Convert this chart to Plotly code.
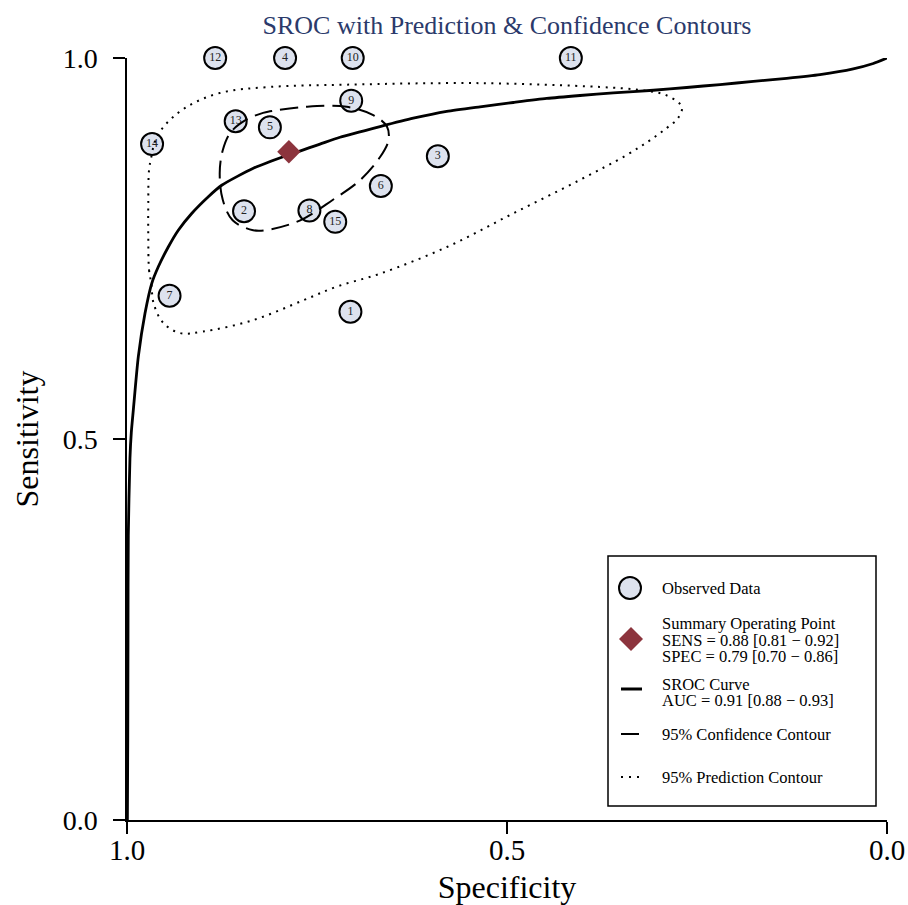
import plotly.graph_objects as go

# ---------------- data ----------------
study_ids = ["1", "2", "3", "4", "5", "6", "7", "8", "9", "10", "11", "12", "13", "14", "15"]
study_spec = [0.706, 0.846, 0.591, 0.792, 0.812, 0.666, 0.944, 0.760, 0.705, 0.703, 0.416, 0.884, 0.857, 0.967, 0.726]
study_sens = [0.667, 0.799, 0.871, 1.000, 0.909, 0.832, 0.688, 0.800, 0.944, 1.000, 1.000, 1.000, 0.917, 0.887, 0.785]

summary_spec = [0.787]
summary_sens = [0.877]

sroc_spec = [0.9995, 0.9990, 0.9987, 0.9983, 0.9961, 0.9943, 0.9917, 0.9851, 0.9763, 0.9675,
             0.9588, 0.9457, 0.9325, 0.9149, 0.8930, 0.8754, 0.8338, 0.7899, 0.7461, 0.7197,
             0.6671, 0.6233, 0.5793, 0.5355, 0.4917, 0.4478, 0.4039, 0.3601, 0.3075, 0.2636,
             0.2197, 0.1759, 0.1320, 0.0882, 0.0444, 0.0180, 0.0000]
sroc_sens = [0.000, 0.105, 0.236, 0.373, 0.475, 0.509, 0.538, 0.608, 0.665, 0.704,
             0.726, 0.752, 0.774, 0.796, 0.818, 0.833, 0.8553, 0.872, 0.887, 0.896,
             0.910, 0.921, 0.930, 0.936, 0.9416, 0.9469, 0.9508, 0.9543, 0.9577, 0.9613,
             0.9652, 0.9692, 0.9734, 0.9783, 0.9858, 0.9928, 1.000]

conf_spec = [0.812, 0.764, 0.711, 0.676, 0.658, 0.656, 0.667, 0.693, 0.729, 0.772, 0.812, 0.834,
             0.861, 0.874, 0.878, 0.874, 0.864, 0.843, 0.821, 0.812]
conf_sens = [0.930, 0.936, 0.936, 0.925, 0.910, 0.892, 0.870, 0.840, 0.814, 0.787, 0.775, 0.774,
             0.787, 0.814, 0.849, 0.879, 0.902, 0.919, 0.928, 0.930]

pred_spec = [0.972, 0.971, 0.968, 0.965, 0.952, 0.930, 0.900, 0.834, 0.768, 0.724, 0.667, 0.579,
             0.492, 0.404, 0.342, 0.312, 0.290, 0.275, 0.270, 0.290, 0.325, 0.378, 0.536, 0.711,
             0.812, 0.878, 0.921, 0.950, 0.963, 0.968, 0.971, 0.972, 0.972]
pred_sens = [0.766, 0.722, 0.704, 0.678, 0.652, 0.639, 0.641, 0.656, 0.682, 0.700, 0.717, 0.752,
             0.796, 0.840, 0.873, 0.892, 0.908, 0.921, 0.936, 0.951, 0.958, 0.962, 0.967, 0.965,
             0.962, 0.954, 0.936, 0.912, 0.891, 0.870, 0.853, 0.810, 0.766]

x_ticks = [1.0, 0.5, 0.0]
x_ticklabels = ["1.0", "0.5", "0.0"]
y_ticks = [0.0, 0.5, 1.0]
y_ticklabels = ["0.0", "0.5", "1.0"]

title_text = "SROC with Prediction & Confidence Contours"
legend_observed = "Observed Data"
legend_summary = ["Summary Operating Point", "SENS = 0.88 [0.81 \u2212 0.92]", "SPEC = 0.79 [0.70 \u2212 0.86]"]
legend_sroc = ["SROC Curve", "AUC = 0.91 [0.88 \u2212 0.93]"]
legend_conf = "95% Confidence Contour"
legend_pred = "95% Prediction Contour"

# ---------------- styling ----------------
SERIF = "Liberation Serif"
POINT_FILL = "#dde2ee"
DIAMOND = "#8C343D"
TITLE_COLOR = "#2B3A6B"

W, H = 908, 905
L, R, T, B = 127, 21, 58, 85
PW, PH = W - L - R, H - T - B


def PX(px):
    return (px - L) / PW


def PY(py):
    return (H - B - py) / PH


fig = go.Figure()

fig.add_trace(go.Scatter(
    x=study_spec, y=study_sens, mode="markers+text", text=study_ids,
    textposition="middle center", cliponaxis=False, showlegend=False,
    name=legend_observed,
    marker=dict(size=22, color=POINT_FILL, line=dict(color="black", width=2)),
    textfont=dict(family=SERIF, size=12, color="#222222"),
))

fig.add_trace(go.Scatter(
    x=sroc_spec, y=sroc_sens, mode="lines", cliponaxis=False, showlegend=False,
    name="SROC Curve",
    line=dict(color="black", width=2.8, shape="spline", smoothing=0.6),
))

fig.add_trace(go.Scatter(
    x=conf_spec, y=conf_sens, mode="lines", cliponaxis=False, showlegend=False,
    name=legend_conf,
    line=dict(color="black", width=2, dash="18px,8px", shape="spline", smoothing=1.0),
))

fig.add_trace(go.Scatter(
    x=pred_spec, y=pred_sens, mode="lines", cliponaxis=False, showlegend=False,
    name=legend_pred,
    line=dict(color="black", width=2, dash="2px,5.6px", shape="spline", smoothing=1.0),
))

fig.add_trace(go.Scatter(
    x=summary_spec, y=summary_sens, mode="markers", cliponaxis=False, showlegend=False,
    name="Summary Operating Point",
    marker=dict(symbol="diamond", size=18, color=DIAMOND, line=dict(width=0)),
))

# ---------------- custom legend ----------------
shapes = []
annotations = []

shapes.append(dict(type="rect", xref="paper", yref="paper",
                   x0=PX(608), x1=PX(876), y0=PY(806), y1=PY(556),
                   line=dict(color="black", width=1.5), fillcolor="white", layer="above"))

shapes.append(dict(type="circle", xref="paper", yref="paper",
                   xsizemode="pixel", ysizemode="pixel",
                   xanchor=PX(630), yanchor=PY(588),
                   x0=-11, x1=11, y0=-11, y1=11,
                   line=dict(color="black", width=2), fillcolor=POINT_FILL, layer="above"))
shapes.append(dict(type="path", xref="paper", yref="paper",
                   xsizemode="pixel", ysizemode="pixel",
                   xanchor=PX(631), yanchor=PY(639),
                   path="M 0 12 L 12 0 L 0 -12 L -12 0 Z",
                   line=dict(width=0), fillcolor=DIAMOND, layer="above"))
shapes.append(dict(type="line", xref="paper", yref="paper",
                   x0=PX(621), x1=PX(642), y0=PY(689), y1=PY(689),
                   line=dict(color="black", width=3), layer="above"))
shapes.append(dict(type="line", xref="paper", yref="paper",
                   x0=PX(621), x1=PX(642), y0=PY(734), y1=PY(734),
                   line=dict(color="black", width=2, dash="18px,8px"), layer="above"))
shapes.append(dict(type="line", xref="paper", yref="paper",
                   x0=PX(621), x1=PX(641), y0=PY(777), y1=PY(777),
                   line=dict(color="black", width=2, dash="2px,6px"), layer="above"))

legend_lines = [
    (legend_observed, 588),
    (legend_summary[0], 623),
    (legend_summary[1], 640),
    (legend_summary[2], 656),
    (legend_sroc[0], 684),
    (legend_sroc[1], 700),
    (legend_conf, 734),
    (legend_pred, 777),
]
for txt, py in legend_lines:
    annotations.append(dict(text=txt, xref="paper", yref="paper", x=PX(660), y=PY(py),
                            xanchor="left", yanchor="middle", showarrow=False,
                            font=dict(family=SERIF, size=16.5, color="black")))

fig.update_layout(
    width=W, height=H,
    margin=dict(l=L, r=R, t=T, b=B, pad=0),
    paper_bgcolor="white", plot_bgcolor="white",
    showlegend=False,
    title=dict(text=title_text, x=0.5, xref="paper", xanchor="center",
               y=1 - 25 / H, yref="container", yanchor="middle",
               font=dict(family=SERIF, size=26, color=TITLE_COLOR)),
    shapes=shapes,
    annotations=annotations,
    xaxis=dict(range=[1, 0], tickmode="array", tickvals=x_ticks, ticktext=x_ticklabels,
               ticks="outside", ticklen=12, tickwidth=1.5, tickcolor="black",
               showline=True, linecolor="black", linewidth=1.5,
               showgrid=False, zeroline=False, automargin=False,
               ticklabelstandoff=-9,
               tickfont=dict(family=SERIF, size=29, color="black"),
               title=dict(text="Specificity", standoff=13,
                          font=dict(family=SERIF, size=32, color="black"))),
    yaxis=dict(range=[0, 1], tickmode="array", tickvals=y_ticks, ticktext=y_ticklabels,
               ticks="outside", ticklen=12, tickwidth=1.5, tickcolor="black",
               showline=True, linecolor="black", linewidth=1.5,
               showgrid=False, zeroline=False, automargin=False,
               ticklabelstandoff=10,
               tickfont=dict(family=SERIF, size=28, color="black"),
               title=dict(text="Sensitivity", standoff=14,
                          font=dict(family=SERIF, size=32, color="black"))),
)

fig.write_html("out.html")
